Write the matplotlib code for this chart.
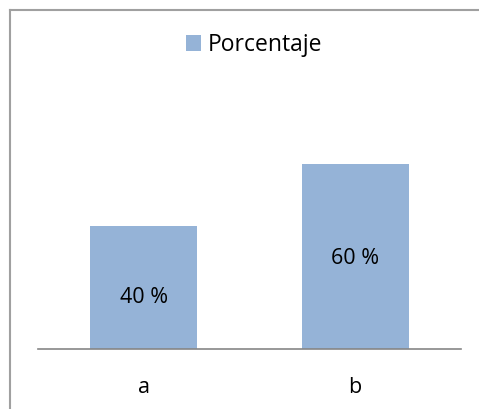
import matplotlib; matplotlib.use("Agg")
import matplotlib.pyplot as plt
from matplotlib.lines import Line2D

categories = ["a", "b"]
values = [40, 60]
value_labels = ["40 %", "60 %"]
label_y = [16.6, 29.5]
series_name = "Porcentaje"

BAR = "#95B3D7"; INK = "#000000"; AXIS = "#868686"
plt.rcParams.update({"font.family": ["Open Sans", "DejaVu Sans"], "font.size": 15.5})

fig = plt.figure(figsize=(4.79, 4.09), dpi=100)
ax = fig.add_axes([38/479, 60/409, 423/479, 215.6/409])
x = range(len(categories))
ax.bar(x, values, width=0.505, color=BAR, label=series_name)
for i, (lab, yy) in enumerate(zip(value_labels, label_y)):
    ax.text(i, yy, lab, ha="center", va="center", fontsize=15.5, color=INK)
ax.set_xlim(-0.5, 1.5)
ax.set_ylim(0, 70)
ax.set_xticks(list(x))
ax.set_xticklabels(categories)
ax.tick_params(axis="x", length=0, pad=20, labelsize=15.5)
ax.set_yticks([])
for s in ["top", "right", "left"]:
    ax.spines[s].set_visible(False)
ax.spines["bottom"].set_color(AXIS)
ax.spines["bottom"].set_linewidth(1.2)

fig.legend(loc="center", bbox_to_anchor=(254/479, 1 - 45/409), frameon=False,
           handlelength=0.65, handleheight=0.65, handletextpad=0.3, fontsize=16.5)
# figure frame: only top and left edges are visible
fx, fy = 9.5/479, 1 - 10/409
fig.add_artist(Line2D([fx, 1], [fy, fy], transform=fig.transFigure, color="#A0A0A0", lw=1.5))
fig.add_artist(Line2D([fx, fx], [0, fy], transform=fig.transFigure, color="#A0A0A0", lw=1.5))
fig.savefig("out.png", dpi=100)
